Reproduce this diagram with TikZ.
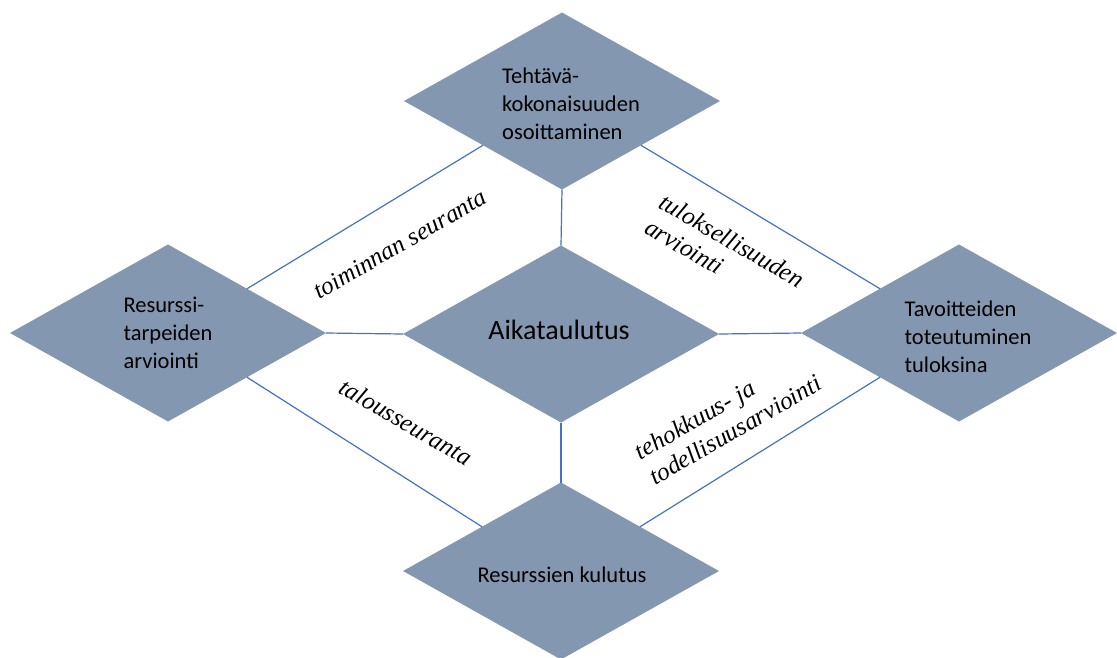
\documentclass[tikz,border=0pt]{standalone}
\usepackage{fontspec}
\setmainfont{Carlito}
\newfontfamily\labelfont{Liberation Serif Italic}
\usetikzlibrary{shapes.geometric}
\definecolor{diamondfill}{RGB}{132,151,177}
\definecolor{linkblue}{RGB}{68,114,196}
\tikzset{
  diam/.style={diamond, fill=diamondfill, draw=none, inner sep=0pt, outer sep=0pt,
    minimum width=316pt, minimum height=177pt},
  dtext/.style={align=left, inner sep=0pt, font=\fontsize{22.5}{28}\selectfont},
  link/.style={draw=linkblue, line width=1.2pt},
  edgelabel/.style={align=left, inner sep=0pt, font=\labelfont\fontsize{25}{29}\selectfont}
}
\begin{document}
\begin{tikzpicture}[x=1pt, y=-1pt]
\useasboundingbox (0,0) rectangle (1117,657);

% the five diamonds
\node[diam] (top)    at (562,101) {};
\node[diam] (mid)    at (561,334) {};
\node[diam] (left)   at (168,333) {};
\node[diam] (right)  at (959,333) {};
\node[diam] (bottom) at (561,571) {};

% texts inside the diamonds
\node[dtext] (toptxt)   at (571,104) {Tehtävä-\\kokonaisuuden\\osoittaminen};
\node[dtext] (lefttxt)  at (168,333) {Resurssi-\\tarpeiden\\arviointi};
\node[dtext] (righttxt) at (968,337) {Tavoitteiden\\toteutuminen\\tuloksina};
\node[dtext] (bottxt)   at (562,575) {Resurssien kulutus};
\node[align=center, inner sep=0pt, font=\fontsize{28}{32}\selectfont] (midtxt) at (559,330) {Aikataulutus};

% connectors
\draw[link] (top.south) -- (mid.north);
\draw[link] (mid.south) -- (bottom.north);
\draw[link] (left.east) -- (mid.west);
\draw[link] (mid.east) -- (right.west);
\draw[link] (top.south west) -- (left.north east);
\draw[link] (top.south east) -- (right.north west);
\draw[link] (left.south east) -- (bottom.north west);
\draw[link] (right.south west) -- (bottom.north east);

% labels along the outer connectors
\node[edgelabel, rotate=30]  (lab1) at (400,244) {toiminnan seuranta};
\node[edgelabel, rotate=-30] (lab2) at (725,253) {tuloksellisuuden\\arviointi};
\node[edgelabel, rotate=-30] (lab3) at (406,422) {talousseuranta};
\node[edgelabel, rotate=30]  (lab4) at (728,417) {tehokkuus- ja\\todellisuusarviointi};
\end{tikzpicture}
\end{document}
